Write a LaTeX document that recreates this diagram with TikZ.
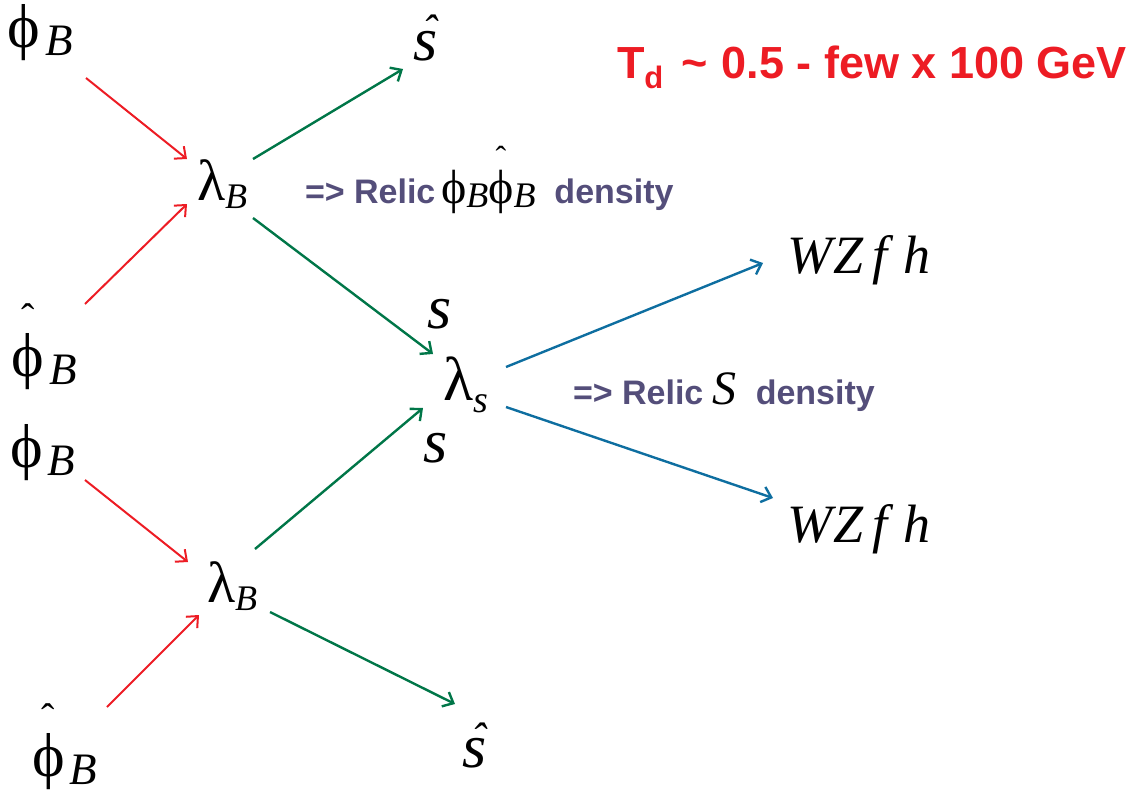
\documentclass[tikz,border=0pt]{standalone}
\usepackage{fontspec}
\usetikzlibrary{arrows.meta}
\newfontfamily\tms{Liberation Serif}
\newfontfamily\arl{Liberation Sans}
\definecolor{ared}{RGB}{237,28,36}
\definecolor{agreen}{RGB}{0,118,72}
\definecolor{ablue}{RGB}{14,110,160}
\definecolor{relic}{RGB}{84,78,122}
\newcommand\fsz[1]{\fontsize{#1}{#1}\selectfont}
\newcommand\PhiB{{\fsz{62}\tms ϕ}\kern5pt\raisebox{-8pt}{\fsz{45}\tms\itshape B}}
\newcommand\HPhiB{{\fsz{62}\tms\ooalign{ϕ\cr\hidewidth\raisebox{45pt}{\fsz{40}ˆ}\hidewidth\cr}}\kern5pt\raisebox{-8pt}{\fsz{45}\tms\itshape B}}
\newcommand\LamB{{\fsz{58}\tms λ}\raisebox{-8pt}{\fsz{36}\tms\itshape B}}
\newcommand\LamS{{\fsz{62}\tms λ}\raisebox{-12pt}{\fsz{38}\tms\itshape s}}
\newcommand\Sl{{\fsz{62}\tms\itshape s}}
\newcommand\Shat{{\fsz{62}\tms\itshape\ooalign{s\cr\hidewidth\kern9pt\raisebox{14pt}{\fsz{44}ˆ}\hidewidth\cr}}}
\newcommand\WZ{{\fsz{54}\tms\itshape W\kern2pt Z\kern8pt f\kern16pt h}}
\newcommand\rtxt[1]{{\arl\bfseries\fsz{34}\color{relic}#1}}
\tikzset{
  lbl/.style={inner sep=0pt,outer sep=0pt,anchor=base west},
  arr/.style={line width=#1, -{Straight Barb[length=9pt,width=16pt,line width=#1]}},
  redarr/.style={arr=2pt, draw=ared},
  greenarr/.style={arr=2.4pt, draw=agreen},
  bluearr/.style={arr=2.4pt, draw=ablue}
}
\begin{document}
\begin{tikzpicture}[x=1pt,y=-1pt]
\useasboundingbox (0,0) rectangle (1135,792);
% nodes
\node[lbl] (phiB1) at (8,48) {\PhiB};
\node[lbl] (hphiB1) at (12,376) {\HPhiB};
\node[lbl] (phiB2) at (10,467) {\PhiB};
\node[lbl] (hphiB2) at (32,776) {\HPhiB};
\node[lbl] (lamB1) at (197,200) {\LamB};
\node[lbl] (lamB2) at (207,602) {\LamB};
\node[lbl] (lams) at (443,400) {\LamS};
\node[lbl] (shat1) at (413,60) {\Shat};
\node[lbl] (shat2) at (462,767) {\Shat};
\node[lbl] (s1) at (427,328) {\Sl};
\node[lbl] (s2) at (423,462) {\Sl};
\node[lbl] (wz1) at (787,273) {\WZ};
\node[lbl] (wz2) at (787,542) {\WZ};
\node[lbl] (relic1) at (305,203) {\rtxt{=> Relic\,}{\fsz{48}\tms ϕ}\raisebox{-4pt}{\fsz{36}\tms\itshape B}{\fsz{48}\tms\ooalign{ϕ\cr\hidewidth\raisebox{35pt}{\fsz{32}ˆ}\hidewidth\cr}}\raisebox{-4pt}{\fsz{36}\tms\itshape B}\rtxt{\ \ density}};
\node[lbl] (relic2) at (573,404) {\rtxt{=> Relic\ }{\fsz{48}\tms\itshape S}\rtxt{\ \ density}};
\node[lbl] (td) at (617,78) {\arl\bfseries\fsz{45}\color{ared}T\raisebox{-10pt}{\fsz{31}d}\hspace{18pt}\textasciitilde\hspace{14pt}0.5 - few x 100 GeV};
% connector ends
\coordinate (e1a) at (86,78);   \coordinate (e1b) at (187,159);
\coordinate (e2a) at (85,304);  \coordinate (e2b) at (187,204);
\coordinate (e3a) at (253,159); \coordinate (e3b) at (403,69);
\coordinate (e4a) at (253,218); \coordinate (e4b) at (433,354);
\coordinate (e5a) at (506,367); \coordinate (e5b) at (763,263);
\coordinate (e6a) at (506,407); \coordinate (e6b) at (773,498);
\coordinate (e7a) at (85,480);  \coordinate (e7b) at (188,562);
\coordinate (e8a) at (255,549); \coordinate (e8b) at (423,408);
\coordinate (e9a) at (107,707); \coordinate (e9b) at (199,615);
\coordinate (e10a) at (270,612); \coordinate (e10b) at (455,704);
% connectors
\draw[redarr] (e1a) -- (e1b);
\draw[redarr] (e2a) -- (e2b);
\draw[greenarr] (e3a) -- (e3b);
\draw[greenarr] (e4a) -- (e4b);
\draw[bluearr] (e5a) -- (e5b);
\draw[bluearr] (e6a) -- (e6b);
\draw[redarr] (e7a) -- (e7b);
\draw[greenarr] (e8a) -- (e8b);
\draw[redarr] (e9a) -- (e9b);
\draw[greenarr] (e10a) -- (e10b);
\end{tikzpicture}
\end{document}
